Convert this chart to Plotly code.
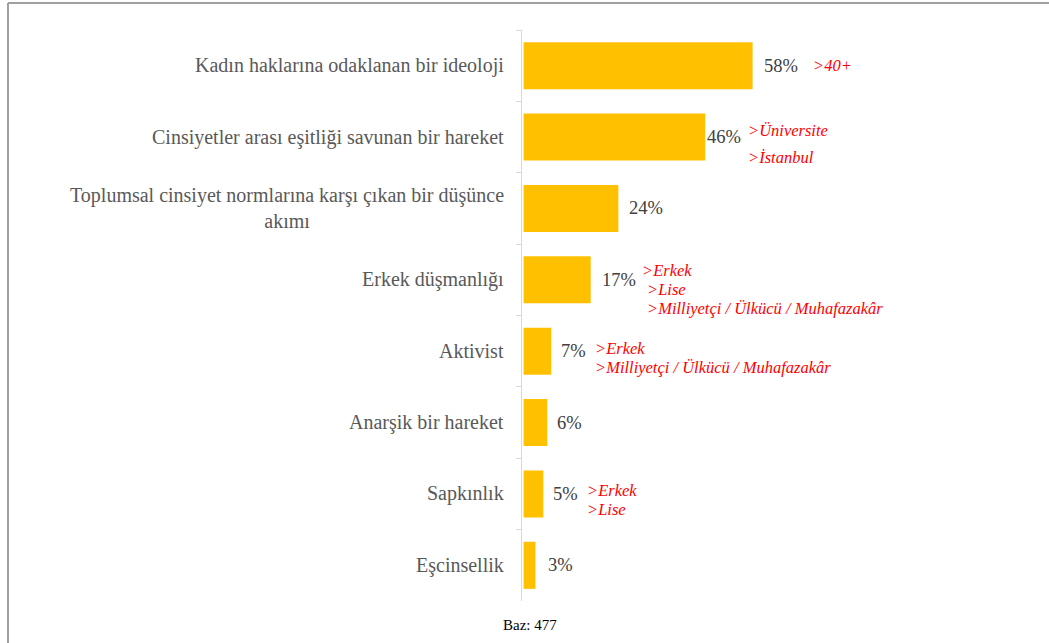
import plotly.graph_objects as go

categories = [
    "Kadın haklarına odaklanan bir ideoloji",
    "Cinsiyetler arası eşitliği savunan bir hareket",
    "Toplumsal cinsiyet normlarına karşı çıkan bir düşünce<br>akımı",
    "Erkek düşmanlığı",
    "Aktivist",
    "Anarşik bir hareket",
    "Sapkınlık",
    "Eşcinsellik",
]
values = [58, 46, 24, 17, 7, 6, 5, 3]
value_labels = ["58%", "46%", "24%", "17%", "7%", "6%", "5%", "3%"]
notes = [
    [">40+"],
    [">Üniversite", ">İstanbul"],
    [],
    [">Erkek", ">Lise", ">Milliyetçi / Ülkücü / Muhafazakâr"],
    [">Erkek", ">Milliyetçi / Ülkücü / Muhafazakâr"],
    [],
    [">Erkek", ">Lise"],
    [],
]
base_text = "Baz: 477"

font_main = "Times New Roman, Liberation Serif, serif"
bar_color = "#ffc000"

# pixel tweaks for the text beside the bars (from bar end)
label_shift = [9, 0, 9, 9, 8, 8, 8, 11]
note_x = [[58], [41, 41], [], [49, 54, 54], [42, 42], [], [42, 42], []]
note_y = [[0], [7, -20], [], [9, -10, -29], [3, -16], [], [3, -16], []]

fig = go.Figure()
fig.add_trace(go.Bar(
    x=values, y=categories, orientation="h",
    marker=dict(color=bar_color, line=dict(width=0)),
    width=0.66, hoverinfo="skip",
))

ann = []
for i, cat in enumerate(categories):
    ann.append(dict(
        x=0, y=cat, xref="x", yref="y", text=cat, showarrow=False,
        xanchor="right", align="center", xshift=-18,
        font=dict(family=font_main, size=20, color="#595959"),
    ))
    ann.append(dict(
        x=values[i], y=cat, xref="x", yref="y", text=value_labels[i],
        showarrow=False, xanchor="left", xshift=label_shift[i],
        font=dict(family=font_main, size=18.5, color="#404040"),
    ))
    for j, line in enumerate(notes[i]):
        ann.append(dict(
            x=values[i], y=cat, xref="x", yref="y", text="<i>" + line + "</i>",
            showarrow=False, xanchor="left",
            xshift=note_x[i][j], yshift=note_y[i][j],
            font=dict(family=font_main, size=16.5, color="#ff0000"),
        ))

ann.append(dict(
    x=0.02, y=-0.042, xref="paper", yref="paper", text=base_text,
    showarrow=False, xanchor="center", yanchor="middle",
    font=dict(family=font_main, size=15, color="#000000"),
))

# the screenshot frame: only top and left edges are visible
frame = dict(color="#a0a0a0", width=2)
fig.update_layout(
    width=1049, height=643,
    margin=dict(l=522, r=127, t=30, b=42),
    plot_bgcolor="white", paper_bgcolor="white",
    showlegend=False,
    annotations=ann,
    shapes=[
        dict(type="line", xref="paper", yref="paper",
             x0=-1.285, x1=1.32, y0=1.0473, y1=1.0473, line=frame),
        dict(type="line", xref="paper", yref="paper",
             x0=-1.285, x1=-1.285, y0=1.0473, y1=-0.08, line=frame),
    ],
    xaxis=dict(range=[-0.4, 100.9], visible=False, fixedrange=True),
    yaxis=dict(
        autorange="reversed", type="category",
        showticklabels=False, showgrid=False, zeroline=False,
        showline=True, linecolor="#d9d9d9", linewidth=1,
        ticks="outside", tickson="boundaries", ticklen=5,
        tickcolor="#d9d9d9",
    ),
)

# page has a default 8px body margin, drop it so the figure sits at 0,0
fig.write_html("out.html", config={"displayModeBar": False},
               post_script="document.body.style.margin='0';")
